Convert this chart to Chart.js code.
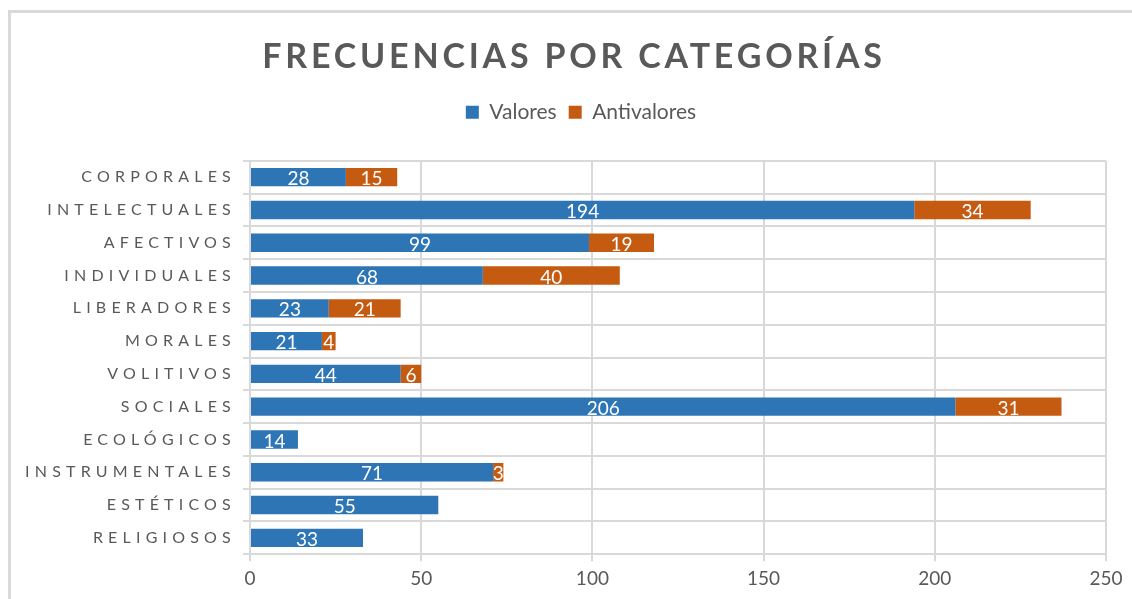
<!DOCTYPE html>
<html>
<head>
<meta charset="utf-8">
<script src="https://cdn.jsdelivr.net/npm/chart.js@4"></script>
<style>
  html, body { margin: 0; padding: 0; background: #fff; overflow: hidden; }
  .frame { position: absolute; left: 8px; top: 10px; width: 1300px; height: 800px;
           border-top: 3px solid #d9d9d9; border-left: 3px solid #d9d9d9; }
  #chart { position: absolute; left: 0; top: 0; }
</style>
</head>
<body>
<div class="frame"></div>
<canvas id="chart" width="1132" height="599"></canvas>
<script>
var categories = ['CORPORALES', 'INTELECTUALES', 'AFECTIVOS', 'INDIVIDUALES', 'LIBERADORES', 'MORALES',
  'VOLITIVOS', 'SOCIALES', 'ECOLÓGICOS', 'INSTRUMENTALES', 'ESTÉTICOS', 'RELIGIOSOS'];
var valores = [28, 194, 99, 68, 23, 21, 44, 206, 14, 71, 55, 33];
var antivalores = [15, 34, 19, 40, 21, 4, 6, 31, null, 3, null, null];
var xTicks = [0, 50, 100, 150, 200, 250];

var grey = '#595959';
var gridColor = '#d9d9d9';
var fontFamily = 'Lato, "Open Sans", sans-serif';

// wraps a draw method so its text gets letter spacing and an x shift
function tweakDraw(obj, name, spacing, dx) {
  if (obj[name]._tweaked) return;
  var orig = obj[name];
  var f = function() {
    var ctx = this.ctx;
    ctx.save();
    ctx.letterSpacing = spacing;
    ctx.translate(dx, 0);
    orig.apply(this, arguments);
    ctx.letterSpacing = '0px';
    ctx.restore();
  };
  f._tweaked = true;
  obj[name] = f;
}

var tweaks = {
  id: 'tweaks',
  beforeLayout: function(chart) {
    var legend = chart.legend;
    if (legend && !legend.fit._padded) {
      var origFit = legend.fit;
      legend.fit = function() {
        origFit.apply(this, arguments);
        this.height += 28;
      };
      legend.fit._padded = true;
    }
  },
  afterLayout: function(chart) {
    tweakDraw(chart.scales.y, 'drawLabels', '5.2px', 0);
    if (chart.titleBlock) tweakDraw(chart.titleBlock, 'draw', '3.8px', 21);
    if (chart.legend) tweakDraw(chart.legend, 'draw', '0px', 28);
  }
};

var barLabels = {
  id: 'barLabels',
  afterDatasetsDraw: function(chart) {
    var ctx = chart.ctx;
    ctx.save();
    ctx.font = '19px ' + fontFamily;
    ctx.fillStyle = '#ffffff';
    ctx.textAlign = 'center';
    ctx.textBaseline = 'middle';
    chart.data.datasets.forEach(function(ds, i) {
      chart.getDatasetMeta(i).data.forEach(function(el, j) {
        var v = ds.data[j];
        if (v === null || v === undefined) return;
        var p = el.getCenterPoint();
        ctx.fillText(String(v), p.x, p.y + 2);
      });
    });
    ctx.restore();
  }
};

new Chart(document.getElementById('chart').getContext('2d'), {
  type: 'bar',
  data: {
    labels: categories,
    datasets: [{
      label: 'Valores',
      data: valores,
      backgroundColor: '#2E75B6',
      categoryPercentage: 0.56,
      barPercentage: 1
    }, {
      label: 'Antivalores',
      data: antivalores,
      backgroundColor: '#C55A11',
      categoryPercentage: 0.56,
      barPercentage: 1
    }]
  },
  options: {
    indexAxis: 'y',
    responsive: false,
    animation: false,
    layout: { padding: { left: 0, right: 26, top: 0, bottom: 3 } },
    plugins: {
      title: {
        display: true,
        text: 'FRECUENCIAS POR CATEGORÍAS',
        color: grey,
        font: { family: fontFamily, size: 34, weight: 'bold' },
        padding: { top: 37, bottom: 12 }
      },
      legend: {
        display: true,
        labels: {
          color: grey,
          font: { family: fontFamily, size: 21 },
          boxWidth: 13,
          boxHeight: 13,
          padding: 12
        }
      },
      tooltip: { enabled: false }
    },
    scales: {
      x: {
        stacked: true,
        min: 0,
        max: 250,
        afterBuildTicks: function(scale) {
          scale.ticks = xTicks.map(function(v) { return { value: v }; });
        },
        grid: { color: gridColor, lineWidth: 2, tickLength: 7, tickColor: gridColor },
        border: { display: false },
        ticks: { color: grey, font: { family: fontFamily, size: 19 }, padding: 6 }
      },
      y: {
        stacked: true,
        afterFit: function(scale) { scale.width = 250; },
        grid: { color: gridColor, lineWidth: 2, tickLength: 7, tickColor: gridColor, offset: true },
        border: { display: false },
        ticks: { color: grey, font: { family: fontFamily, size: 16 }, padding: 7, autoSkip: false }
      }
    }
  },
  plugins: [tweaks, barLabels]
});
</script>
</body>
</html>
